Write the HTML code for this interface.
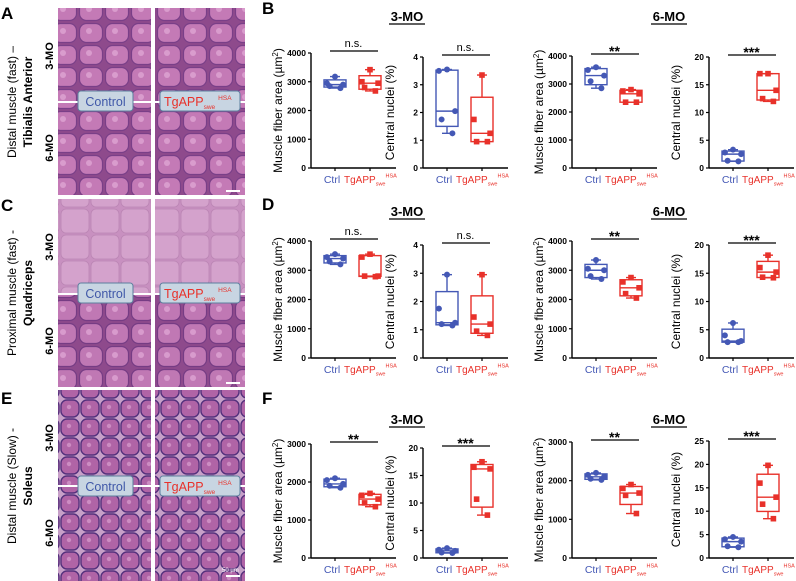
<!DOCTYPE html>
<html><head><meta charset="utf-8"><style>
body{margin:0;background:#fff}
svg{display:block;font-family:"Liberation Sans",Arial,sans-serif}
</style></head><body>
<svg id="fig" width="796" height="581" viewBox="0 0 796 581" xmlns="http://www.w3.org/2000/svg">
<defs>
<pattern id="pa" width="26" height="22" patternUnits="userSpaceOnUse"><rect width="26" height="22" fill="#8e4a8c"/><rect x="1.5" y="1.5" width="23" height="19" rx="7" fill="#c47ab6" stroke="#7a3f88" stroke-width="1.2"/><circle cx="11" cy="9" r="3" fill="#d99ccd"/></pattern>
<pattern id="pc1" width="30" height="26" patternUnits="userSpaceOnUse"><rect width="30" height="26" fill="#c890c0"/><rect x="1" y="1" width="28" height="24" rx="5" fill="#d4a2cc" stroke="#bb85b4" stroke-width="0.8"/></pattern>
<pattern id="pc2" width="26" height="23" patternUnits="userSpaceOnUse"><rect width="26" height="23" fill="#8e4a8c"/><rect x="1.5" y="1.5" width="23" height="20" rx="7" fill="#c078b4" stroke="#763c84" stroke-width="1.2"/><circle cx="11" cy="10" r="3" fill="#d89bcd"/></pattern>
<pattern id="pe" width="20" height="19" patternUnits="userSpaceOnUse"><rect width="20" height="19" fill="#c7a0c8"/><rect x="1" y="1" width="18" height="17" rx="6" fill="#b064a6" stroke="#54307c" stroke-width="1.4"/><circle cx="9" cy="8" r="2.2" fill="#cc8cc2"/></pattern>
</defs>

<g>
 <text x="1" y="19" font-size="17" font-weight="bold">A</text>
 <text x="1" y="211" font-size="17" font-weight="bold">C</text>
 <text x="1" y="404" font-size="17" font-weight="bold">E</text>

 <text transform="translate(16,102) rotate(-90)" text-anchor="middle" font-size="12">Distal muscle (fast) –</text>
 <text transform="translate(32,102) rotate(-90)" text-anchor="middle" font-size="12" font-weight="bold">Tibialis Anterior</text>
 <text transform="translate(16,293) rotate(-90)" text-anchor="middle" font-size="12">Proximal muscle (fast) -</text>
 <text transform="translate(32,293) rotate(-90)" text-anchor="middle" font-size="12" font-weight="bold">Quadriceps</text>
 <text transform="translate(16,486) rotate(-90)" text-anchor="middle" font-size="12">Distal muscle (Slow) -</text>
 <text transform="translate(32,486) rotate(-90)" text-anchor="middle" font-size="12" font-weight="bold">Soleus</text>

 <g font-size="11" font-weight="bold">
 <text transform="translate(53,56) rotate(-90)" text-anchor="middle">3-MO</text>
 <text transform="translate(53,148) rotate(-90)" text-anchor="middle">6-MO</text>
 <text transform="translate(53,247) rotate(-90)" text-anchor="middle">3-MO</text>
 <text transform="translate(53,341) rotate(-90)" text-anchor="middle">6-MO</text>
 <text transform="translate(53,438) rotate(-90)" text-anchor="middle">3-MO</text>
 <text transform="translate(53,533) rotate(-90)" text-anchor="middle">6-MO</text>
 </g>

 <rect x="58" y="8" width="93" height="187" fill="url(#pa)"/>
 <rect x="155" y="8" width="90" height="187" fill="url(#pa)"/>
 <rect x="58" y="199" width="93" height="95" fill="url(#pc1)"/>
 <rect x="155" y="199" width="90" height="95" fill="url(#pc1)"/>
 <rect x="58" y="294" width="93" height="93" fill="url(#pc2)"/>
 <rect x="155" y="294" width="90" height="93" fill="url(#pc2)"/>
 <rect x="58" y="390" width="93" height="191" fill="url(#pe)"/>
 <rect x="155" y="390" width="90" height="191" fill="url(#pe)"/>
 <g fill="#fff">
  <rect x="58" y="101" width="187" height="2"/>
  <rect x="58" y="293" width="187" height="2"/>
  <rect x="58" y="485" width="187" height="2"/>
  <rect x="226" y="190" width="14" height="2"/>
  <rect x="226" y="382" width="14" height="2"/>
  <rect x="226" y="575" width="14" height="2"/>
 </g>
 <text x="222" y="572" font-size="6" fill="#fff">50 µm</text>

 <g>
 <g transform="translate(0,0)">
  <rect x="78" y="91" width="55" height="20" rx="3" fill="#c8d5e2" stroke="#5d7f9e"/>
  <text x="105.5" y="106" text-anchor="middle" font-size="12.5" fill="#4058a8">Control</text>
  <rect x="160" y="91" width="80" height="20" rx="3" fill="#c8d5e2" stroke="#5d7f9e"/>
  <text x="164" y="106" font-size="12.5" fill="#e8312a">TgAPP<tspan font-size="6.5" dy="3">swe</tspan><tspan font-size="6.5" dy="-9" dx="3">HSA</tspan></text>
 </g>
 <g transform="translate(0,192)">
  <rect x="78" y="91" width="55" height="20" rx="3" fill="#c8d5e2" stroke="#5d7f9e"/>
  <text x="105.5" y="106" text-anchor="middle" font-size="12.5" fill="#4058a8">Control</text>
  <rect x="160" y="91" width="80" height="20" rx="3" fill="#c8d5e2" stroke="#5d7f9e"/>
  <text x="164" y="106" font-size="12.5" fill="#e8312a">TgAPP<tspan font-size="6.5" dy="3">swe</tspan><tspan font-size="6.5" dy="-9" dx="3">HSA</tspan></text>
 </g>
 <g transform="translate(0,385)">
  <rect x="78" y="91" width="55" height="20" rx="3" fill="#c8d5e2" stroke="#5d7f9e"/>
  <text x="105.5" y="106" text-anchor="middle" font-size="12.5" fill="#4058a8">Control</text>
  <rect x="160" y="91" width="80" height="20" rx="3" fill="#c8d5e2" stroke="#5d7f9e"/>
  <text x="164" y="106" font-size="12.5" fill="#e8312a">TgAPP<tspan font-size="6.5" dy="3">swe</tspan><tspan font-size="6.5" dy="-9" dx="3">HSA</tspan></text>
 </g>
 </g>
</g>

<g>
 <text x="262" y="14" font-size="17" font-weight="bold">B</text>
 <text x="262" y="210" font-size="17" font-weight="bold">D</text>
 <text x="262" y="404" font-size="17" font-weight="bold">F</text>
</g>
<g id="charts"></g>
</svg>
<script>
// ---- data (values per animal) ----
const b1Ctrl=[3180,2950,2900,2850,2780], b1Tg=[3420,3000,2950,2800,2680];
const b2Ctrl=[3.55,3.5,2.05,1.75,1.25], b2Tg=[3.35,1.75,1.25,0.95,0.95];
const b3Ctrl=[3600,3500,3300,3100,2850], b3Tg=[2800,2750,2650,2350,2350];
const b4Ctrl=[3.3,2.8,2.5,1.3,1.2], b4Tg=[17,17,14,12.5,12];
const d1Ctrl=[3550,3450,3400,3300,3200], d1Tg=[3550,3450,2800,2800,2780];
const d2Ctrl=[2.95,1.75,1.25,1.2,1.15], d2Tg=[2.95,1.45,1.2,0.95,0.8];
const d3Ctrl=[3350,3050,3000,2800,2700], d3Tg=[2750,2600,2400,2200,2050];
const d4Ctrl=[6.2,4,3,2.8,2.8], d4Tg=[18.2,16,15.2,14.3,14.2];
const f1Ctrl=[2100,2050,1950,1900,1850], f1Tg=[1700,1650,1550,1450,1350];
const f2Ctrl=[1.8,1.5,1.3,1.0,0.9], f2Tg=[17.5,16.5,16.2,10.7,7.8];
const f3Ctrl=[2200,2150,2100,2050,2020], f3Tg=[1900,1800,1680,1620,1150];
const f4Ctrl=[4.5,4,3.5,2.5,2.3], f4Tg=[19.8,16,13,11.5,8.4];
const ticksArea4k=[0,1000,2000,3000,4000];
const ticksArea3k=[0,1000,2000,3000];
const ticksPct4=[0,1,2,3,4];
const ticksPct20=[0,5,10,15,20];
const ticksPct25=[0,5,10,15,20,25];
const sigLabels=["n.s.","n.s.","**","***","n.s.","n.s.","**","***","**","***","**","***"];

const NS="http://www.w3.org/2000/svg";
const root=document.getElementById('charts');
const BLUE="#4458b5", RED="#e8312a";
function mk(tag,attrs,parent){const e=document.createElementNS(NS,tag);for(const k in attrs)e.setAttribute(k,attrs[k]);(parent||root).appendChild(e);return e;}
function quart(a){const s=[...a].sort((x,y)=>x-y);const n=s.length;
 const q=p=>{const pos=p*(n+1)-1;const lo=Math.max(0,Math.min(n-1,Math.floor(pos)));const hi=Math.max(0,Math.min(n-1,Math.ceil(pos)));return s[lo]+(s[hi]-s[lo])*(pos-lo);};
 return {min:s[0],max:s[n-1],q1:q(0.25),med:q(0.5),q3:q(0.75)};}

function chart(id,ax,yTop,yZero,ticks,ctrl,tg,ylabel,sig){
 const g=mk('g',{});
 
 
 const max=ticks[ticks.length-1];
 const y=v=>yZero-(v/max)*(yZero-yTop);
 const cx=ax+24, tx=ax+59;
 const yl=mk('line',{x1:ax,y1:yTop,x2:ax,y2:yZero,stroke:'#000','stroke-width':1.4},g);
 
 
 const xl=mk('line',{x1:ax,y1:yZero,x2:ax+85,y2:yZero,stroke:'#000','stroke-width':1.4},g);
 
 
 ticks.forEach(t=>{
  mk('line',{x1:ax-3,y1:y(t),x2:ax,y2:y(t),stroke:'#000','stroke-width':1.2},g);
  const tl=mk('text',{x:ax-5,y:y(t)+3,'text-anchor':'end','font-size':8.5,'font-weight':'bold'},g);
  tl.textContent=t;
  
  
 });
 [cx,tx].forEach(x=>mk('line',{x1:x,y1:yZero,x2:x,y2:yZero+3,stroke:'#000','stroke-width':1.2},g));
 const cl=mk('text',{x:cx-3,y:yZero+15,'text-anchor':'middle','font-size':10.5,fill:BLUE},g);
 cl.textContent='Ctrl';
 
 
 const tl=mk('text',{x:tx-26,y:yZero+15,'font-size':10,fill:RED},g);
 tl.innerHTML='TgAPP<tspan font-size="5.5" dy="2.5">swe</tspan><tspan font-size="5.5" dy="-8" dx="0">HSA</tspan>';
 
 
 const my=(yTop+yZero)/2;
 const lab=mk('text',{transform:`translate(${ax-29},${my}) rotate(-90)`,'text-anchor':'middle','font-size':12},g);
 lab.innerHTML=ylabel;
 
 
 [[ctrl,cx,BLUE,'ctrl'],[tg,tx,RED,'tg']].forEach(([d,x,c,nm])=>{
  const q=quart(d);const w=11;
  const bg=mk('g',{},g);
  
  
  mk('line',{x1:x,y1:y(q.max),x2:x,y2:y(q.q3),stroke:c,'stroke-width':1.4},bg);
  mk('line',{x1:x,y1:y(q.min),x2:x,y2:y(q.q1),stroke:c,'stroke-width':1.4},bg);
  mk('line',{x1:x-5,y1:y(q.max),x2:x+5,y2:y(q.max),stroke:c,'stroke-width':1.4},bg);
  mk('line',{x1:x-5,y1:y(q.min),x2:x+5,y2:y(q.min),stroke:c,'stroke-width':1.4},bg);
  mk('rect',{x:x-w,y:y(q.q3),width:2*w,height:Math.max(0.5,y(q.q1)-y(q.q3)),fill:'none',stroke:c,'stroke-width':1.4},bg);
  mk('line',{x1:x-w,y1:y(q.med),x2:x+w,y2:y(q.med),stroke:c,'stroke-width':1.4},bg);
  const offs=[0,-9,9,-6,6];
  [...d].sort((a,b)=>b-a).forEach((v,i)=>{
   const px=x+offs[i%5]*0.9;
   let p;
   if(nm==='ctrl') p=mk('circle',{cx:px,cy:y(v),r:3,fill:c},bg);
   else p=mk('rect',{x:px-2.8,y:y(v)-2.8,width:5.6,height:5.6,fill:c},bg);
   
   
  });
 });
 const sy=yTop-2;
 const sl=mk('line',{x1:cx-5,y1:sy,x2:tx+8,y2:sy,stroke:'#000','stroke-width':1.3},g);
 
 
 const ns=sig==='n.s.';
 const st=mk('text',{x:(cx+tx)/2+1,y:ns?sy-4:sy+2,'text-anchor':'middle','font-size':ns?11:14,'font-weight':ns?'normal':'bold'},g);
 st.textContent=sig;
 
 
}
const AREA='Muscle fiber area (µm<tspan font-size="8" dy="-4">2</tspan><tspan dy="4">)</tspan>';
const PCT='Central nuclei (%)';
function title(x,y,t,n){const e=mk('text',{x:x,y:y,'text-anchor':'middle','font-size':13,'font-weight':'bold'});e.textContent=t;
 
 
 mk('line',{x1:x-18,y1:y+3,x2:x+18,y2:y+3,stroke:'#000','stroke-width':1.3});}
const cols=[311,423,572,709];
title(407,21,'3-MO','title-b-3mo');title(669,21,'6-MO','title-b-6mo');
title(407,216,'3-MO','title-d-3mo');title(669,216,'6-MO','title-d-6mo');
title(407,424,'3-MO','title-f-3mo');title(669,424,'6-MO','title-f-6mo');
chart('chart-b1',cols[0],53,168,ticksArea4k,b1Ctrl,b1Tg,AREA,sigLabels[0]);
chart('chart-b2',cols[1],57,168,ticksPct4,b2Ctrl,b2Tg,PCT,sigLabels[1]);
chart('chart-b3',cols[2],56,168,ticksArea4k,b3Ctrl,b3Tg,AREA,sigLabels[2]);
chart('chart-b4',cols[3],57,168,ticksPct20,b4Ctrl,b4Tg,PCT,sigLabels[3]);
chart('chart-d1',cols[0],241,358,ticksArea4k,d1Ctrl,d1Tg,AREA,sigLabels[4]);
chart('chart-d2',cols[1],245,358,ticksPct4,d2Ctrl,d2Tg,PCT,sigLabels[5]);
chart('chart-d3',cols[2],241,358,ticksArea4k,d3Ctrl,d3Tg,AREA,sigLabels[6]);
chart('chart-d4',cols[3],245,358,ticksPct20,d4Ctrl,d4Tg,PCT,sigLabels[7]);
chart('chart-f1',cols[0],444,558,ticksArea3k,f1Ctrl,f1Tg,AREA,sigLabels[8]);
chart('chart-f2',cols[1],448,558,ticksPct20,f2Ctrl,f2Tg,PCT,sigLabels[9]);
chart('chart-f3',cols[2],442,558,ticksArea3k,f3Ctrl,f3Tg,AREA,sigLabels[10]);
chart('chart-f4',cols[3],441,558,ticksPct25,f4Ctrl,f4Tg,PCT,sigLabels[11]);
</script>
</body></html>
